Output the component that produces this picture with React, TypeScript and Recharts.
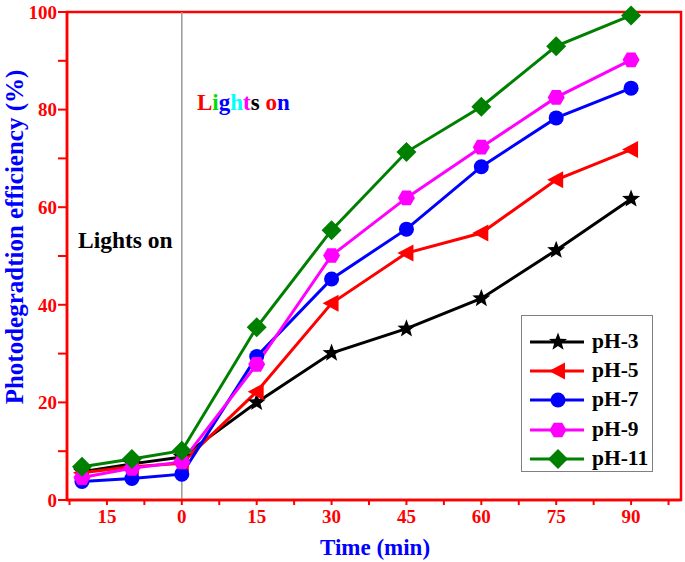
import React from 'react';
import { LineChart, Line, XAxis, YAxis, ReferenceLine, ReferenceArea, Label } from 'recharts';

const times = [-20, -10, 0, 15, 30, 45, 60, 75, 90];
const ph3 = [5.8, 7.4, 8.8, 20.0, 30.1, 35.1, 41.3, 51.2, 61.7];
const ph5 = [5.6, 6.8, 7.5, 22.2, 40.3, 50.6, 54.7, 65.6, 71.8];
const ph7 = [3.8, 4.4, 5.3, 29.4, 45.3, 55.5, 68.3, 78.3, 84.4];
const ph9 = [4.6, 6.5, 7.8, 27.8, 50.1, 61.9, 72.3, 82.5, 90.2];
const ph11 = [6.8, 8.4, 10.1, 35.4, 55.3, 71.3, 80.6, 93.0, 99.3];

const xTicks = [-22.5, -15, -7.5, 0, 7.5, 15, 22.5, 30, 37.5, 45, 52.5, 60, 67.5, 75, 82.5, 90, 97.5];
const yTicks = [0, 10, 20, 30, 40, 50, 60, 70, 80, 90, 100];

const series = [
  { key: 'ph3', name: 'pH-3', color: '#000000', shape: 'star' },
  { key: 'ph5', name: 'pH-5', color: '#ff0000', shape: 'triLeft' },
  { key: 'ph7', name: 'pH-7', color: '#0000ff', shape: 'circle' },
  { key: 'ph9', name: 'pH-9', color: '#ff00ff', shape: 'hexagon' },
  { key: 'ph11', name: 'pH-11', color: '#008000', shape: 'diamond' },
];

const data = times.map((t, i) => ({
  t,
  ph3: ph3[i],
  ph5: ph5[i],
  ph7: ph7[i],
  ph9: ph9[i],
  ph11: ph11[i],
}));

const FONT = '"Liberation Serif", "Times New Roman", serif';

function Marker({ shape, cx, cy, color }: { shape: string; cx: number; cy: number; color: string }) {
  if (shape === 'circle') return <circle cx={cx} cy={cy} r={7.5} fill={color} />;
  if (shape === 'diamond')
    return <polygon points={`${cx},${cy - 10} ${cx + 10},${cy} ${cx},${cy + 10} ${cx - 10},${cy}`} fill={color} />;
  if (shape === 'triLeft')
    return <polygon points={`${cx - 9},${cy} ${cx + 7},${cy - 8.5} ${cx + 7},${cy + 8.5}`} fill={color} />;
  if (shape === 'hexagon') {
    const pts = [];
    for (let k = 0; k < 6; k++) {
      const a = (Math.PI / 3) * k;
      pts.push(`${cx + 8.5 * Math.cos(a)},${cy + 8.5 * Math.sin(a)}`);
    }
    return <polygon points={pts.join(' ')} fill={color} />;
  }
  // star
  const pts = [];
  for (let k = 0; k < 10; k++) {
    const r = k % 2 === 0 ? 9.5 : 4;
    const a = -Math.PI / 2 + (Math.PI / 5) * k;
    pts.push(`${cx + r * Math.cos(a)},${cy + r * Math.sin(a)}`);
  }
  return <polygon points={pts.join(' ')} fill={color} />;
}

const LegendBox = () => (
  <div
    style={{
      position: 'absolute',
      left: 521,
      top: 315,
      width: 132,
      height: 157,
      border: '1.5px solid #808080',
      background: '#fff',
      boxSizing: 'border-box',
      paddingTop: 11,
    }}
  >
    {series.map(s => (
      <div key={s.key} style={{ display: 'flex', alignItems: 'center', height: 29.3 }}>
        <svg width={70} height={24} style={{ display: 'block' }}>
          <line x1={8} y1={12} x2={62} y2={12} stroke={s.color} strokeWidth={3} />
          <Marker shape={s.shape} cx={36} cy={12} color={s.color} />
        </svg>
        <span style={{ fontFamily: FONT, fontWeight: 'bold', fontSize: 21.5, color: '#000', lineHeight: 1 }}>
          {s.name}
        </span>
      </div>
    ))}
  </div>
);

export default function App() {
  return (
    <div style={{ position: 'absolute', left: 0, top: 0, width: 685, height: 562, background: '#fff' }}>
      <LineChart width={685} height={562} data={data} margin={{ top: 12, right: 4, bottom: 0, left: 0 }}>
        <ReferenceArea x1={-23} x2={100} y1={0} y2={100} fill="none" stroke="#ff0000" strokeWidth={2.5} ifOverflow="visible" />
        <XAxis
          dataKey="t"
          type="number"
          domain={[-23, 100]}
          ticks={xTicks}
          interval={0}
          height={62}
          allowDataOverflow
          tickFormatter={(v: number) => (v % 15 === 0 ? String(Math.abs(v)) : '')}
          tick={{ fill: '#ff0000', fontFamily: FONT, fontWeight: 'bold', fontSize: 19 }}
          tickSize={5}
          tickMargin={5}
          axisLine={{ stroke: '#ff0000', strokeWidth: 2.5 }}
          tickLine={{ stroke: '#ff0000', strokeWidth: 2 }}
        >
          <Label
            content={() => (
              <text x={375} y={555} textAnchor="middle" fill="#0000ff" fontFamily={FONT} fontWeight="bold" fontSize={23}>
                Time (min)
              </text>
            )}
          />
        </XAxis>
        <YAxis
          type="number"
          domain={[0, 100]}
          ticks={yTicks}
          interval={0}
          width={67}
          tickFormatter={(v: number) => (v % 20 === 0 ? String(v) : '')}
          tick={{ fill: '#ff0000', fontFamily: FONT, fontWeight: 'bold', fontSize: 19 }}
          tickSize={9}
          tickMargin={1}
          axisLine={{ stroke: '#ff0000', strokeWidth: 2.5 }}
          tickLine={{ stroke: '#ff0000', strokeWidth: 2 }}
        >
          <Label
            content={() => (
              <text
                x={23}
                y={237}
                transform="rotate(-90, 23, 237)"
                textAnchor="middle"
                fill="#0000ff"
                fontFamily={FONT}
                fontWeight="bold"
                fontSize={25}
              >
                Photodegradtion efficiency (%)
              </text>
            )}
          />
        </YAxis>
        <ReferenceLine x={0} stroke="#999999" strokeWidth={1.5} />
        {series.map(s => (
          <Line
            key={s.key}
            dataKey={s.key}
            name={s.name}
            stroke={s.color}
            strokeWidth={3}
            isAnimationActive={false}
            dot={(p: any) => <Marker key={`${s.key}-${p.index}`} shape={s.shape} cx={p.cx} cy={p.cy} color={s.color} />}
          />
        ))}
      </LineChart>
      <LegendBox />
      <div
        style={{
          position: 'absolute',
          left: 78,
          top: 227,
          fontFamily: FONT,
          fontWeight: 'bold',
          fontSize: 23.5,
          color: '#000',
          whiteSpace: 'nowrap',
        }}
      >
        Lights on
      </div>
      <div
        style={{
          position: 'absolute',
          left: 197,
          top: 90,
          fontFamily: FONT,
          fontWeight: 'bold',
          fontSize: 23,
          whiteSpace: 'nowrap',
        }}
      >
        <span style={{ color: '#ff0000' }}>L</span>
        <span style={{ color: '#00dd00' }}>i</span>
        <span style={{ color: '#0000ff' }}>g</span>
        <span style={{ color: '#00ffff' }}>h</span>
        <span style={{ color: '#ff00ff' }}>t</span>
        <span style={{ color: '#000000' }}>s</span>
        <span style={{ color: '#ff0000' }}> o</span>
        <span style={{ color: '#0000ff' }}>n</span>
      </div>
    </div>
  );
}
